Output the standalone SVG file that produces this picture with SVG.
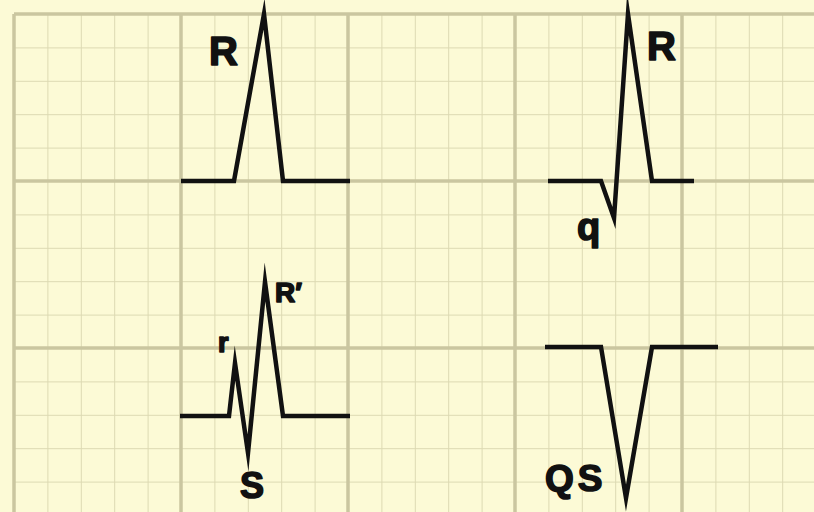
<svg xmlns="http://www.w3.org/2000/svg" width="814" height="512" viewBox="0 0 814 512">
  <defs>
    <pattern id="minor" patternUnits="userSpaceOnUse" x="14" y="14" width="33.4" height="33.4">
      <path d="M0 0 H33.4 M0 0 V33.4" fill="none" stroke="#dcd9b2" stroke-width="2"/>
    </pattern>
    <style>
      .major { stroke: #cac6a0; stroke-width: 3.5; fill: none; }
      .wave { fill: none; stroke: #111; stroke-width: 4.5; stroke-linejoin: miter; stroke-miterlimit: 10; stroke-linecap: butt; }
      .lbl { font-family: "Liberation Sans", Arial, sans-serif; font-weight: bold; fill: #111; stroke: #111; stroke-width: 1.6; stroke-linejoin: round; }
    </style>
  </defs>
  <g id="grid">
    <rect x="0" y="0" width="814" height="512" fill="#fcfad6"/>
    <rect x="14" y="14" width="800" height="498" fill="url(#minor)"/>
    <path class="major" d="M14 14 V512 M181 14 V512 M348 14 V512 M515 14 V512 M682 14 V512 M14 14 H814 M14 181 H814 M14 348 H814"/>
  </g>
  <g id="node-r">
    <polyline class="wave" points="181,181 234,181 264,14 283,181 350,181"/>
    <text class="lbl" x="209" y="65" font-size="40">R</text>
  </g>
  <g id="node-qr">
    <polyline class="wave" points="548,181 601,181 614,218 628,14 652,181 694,181"/>
    <text class="lbl" x="647" y="60" font-size="40">R</text>
    <text class="lbl" x="577" y="240" font-size="38">q</text>
  </g>
  <g id="node-rsr">
    <polyline class="wave" points="180,416 229,416 235,363 248,453 265,282 283,416 350,416"/>
    <text class="lbl" x="218" y="352" font-size="27">r</text>
    <text class="lbl" x="275" y="302" font-size="28">R′</text>
    <text class="lbl" x="240" y="498" font-size="36">S</text>
  </g>
  <g id="node-qs">
    <polyline class="wave" points="545,347 601,347 626,498 652,347 718,347"/>
    <text class="lbl" x="545" y="491" font-size="37" letter-spacing="4">QS</text>
  </g>
  <g id="connectors"/>
</svg>
